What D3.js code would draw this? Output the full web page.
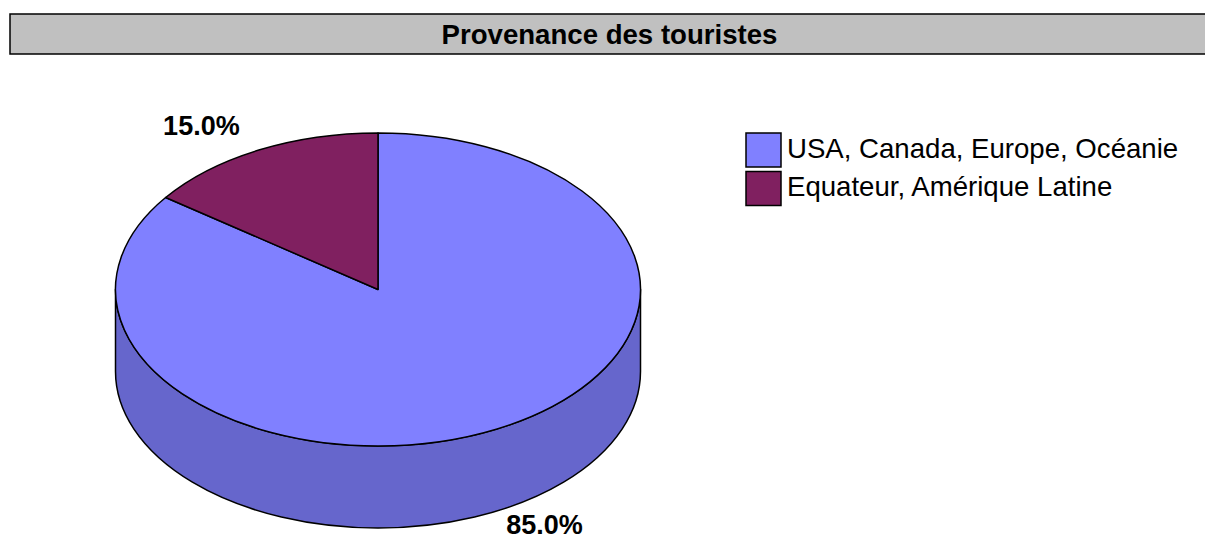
<!DOCTYPE html>
<html>
<head>
<meta charset="utf-8">
<script src="https://cdn.jsdelivr.net/npm/d3@7/dist/d3.min.js"></script>
<style>
  body { margin: 0; background: #fff; }
  text { font-family: "Liberation Sans", Arial, sans-serif; }
</style>
</head>
<body>
<svg id="chart" width="1205" height="541"></svg>
<script>
// data
var titleText = "Provenance des touristes";
var categories = ["USA, Canada, Europe, Océanie", "Equateur, Amérique Latine"];
var values = [85.0, 15.0];
var topColors = ["#8080FF", "#802060"];
var sideColors = ["#6666CC", "#661A4D"];

var width = 1205, height = 541;
var cx = 378, cy = 289.5, rx = 262.5, ry = 156.5, depth = 82;

var svg = d3.select("#chart");

// title bar
svg.append("rect")
   .attr("x", 10).attr("y", 14)
   .attr("width", 1200).attr("height", 40)
   .style("fill", "#C0C0C0")
   .style("stroke", "#000")
   .style("stroke-width", 1.5);

svg.append("text")
   .attr("x", 609.5).attr("y", 44)
   .attr("text-anchor", "middle")
   .style("font-size", "27.6px")
   .style("font-weight", "bold")
   .text(titleText);

var pie = d3.pie().sort(null).value(function(d) { return d; });
var arcs = pie(values);

// point on the ellipse, angle from 12 o'clock clockwise
function pt(a, dy) {
  return [cx + rx * Math.sin(a), cy - ry * Math.cos(a) + (dy || 0)];
}

function topPath(d) {
  var p0 = pt(d.startAngle), p1 = pt(d.endAngle);
  var large = (d.endAngle - d.startAngle) > Math.PI ? 1 : 0;
  return "M" + cx + "," + cy + "L" + p0 + "A" + rx + "," + ry + " 0 " + large + " 1 " + p1 + "Z";
}

// the front wall is only seen between 3 o'clock and 9 o'clock
function sidePath(d) {
  var a0 = Math.max(d.startAngle, Math.PI / 2);
  var a1 = Math.min(d.endAngle, 3 * Math.PI / 2);
  if (a1 <= a0) return null;
  var large = (a1 - a0) > Math.PI ? 1 : 0;
  return "M" + pt(a0) + "A" + rx + "," + ry + " 0 " + large + " 1 " + pt(a1) +
         "L" + pt(a1, depth) + "A" + rx + "," + ry + " 0 " + large + " 0 " + pt(a0, depth) + "Z";
}

svg.selectAll(".side")
   .data(arcs.filter(function(d) { return sidePath(d) != null; }))
   .enter()
   .append("path")
   .attr("class", "side")
   .attr("d", sidePath)
   .style("fill", function(d) { return sideColors[d.index]; })
   .style("stroke", "#000")
   .style("stroke-width", 1.5)
   .style("stroke-linejoin", "round");

svg.selectAll(".top")
   .data(arcs)
   .enter()
   .append("path")
   .attr("class", "top")
   .attr("d", topPath)
   .style("fill", function(d) { return topColors[d.index]; })
   .style("stroke", "#000")
   .style("stroke-width", 1.5)
   .style("stroke-linejoin", "round");

// percent labels outside the slices
var total = d3.sum(values);
svg.selectAll(".pctLabel")
   .data(arcs)
   .enter()
   .append("text")
   .attr("class", "pctLabel")
   .attr("x", function(d) {
     var m = (d.startAngle + d.endAngle) / 2;
     return cx + rx * 1.44 * Math.sin(m) - 5;
   })
   .attr("y", function(d) {
     var m = (d.startAngle + d.endAngle) / 2;
     var y = cy - ry * 1.17 * Math.cos(m);
     if (Math.cos(m) < 0) y += depth - 10;
     return y + 9;
   })
   .attr("text-anchor", "middle")
   .style("font-size", "27px")
   .style("font-weight", "bold")
   .text(function(d) { return (d.data / total * 100).toFixed(1) + "%"; });

// legend
var legend = svg.selectAll(".legend")
   .data(categories)
   .enter()
   .append("g")
   .attr("class", "legend")
   .attr("transform", function(d, i) { return "translate(0," + i * 38.5 + ")"; });

legend.append("rect")
   .attr("x", 746).attr("y", 133)
   .attr("width", 35).attr("height", 34)
   .style("fill", function(d, i) { return topColors[i]; })
   .style("stroke", "#000")
   .style("stroke-width", 1.5);

legend.append("text")
   .attr("x", 787).attr("y", 157.5)
   .style("font-size", "27.6px")
   .text(function(d) { return d; });
</script>
</body>
</html>
